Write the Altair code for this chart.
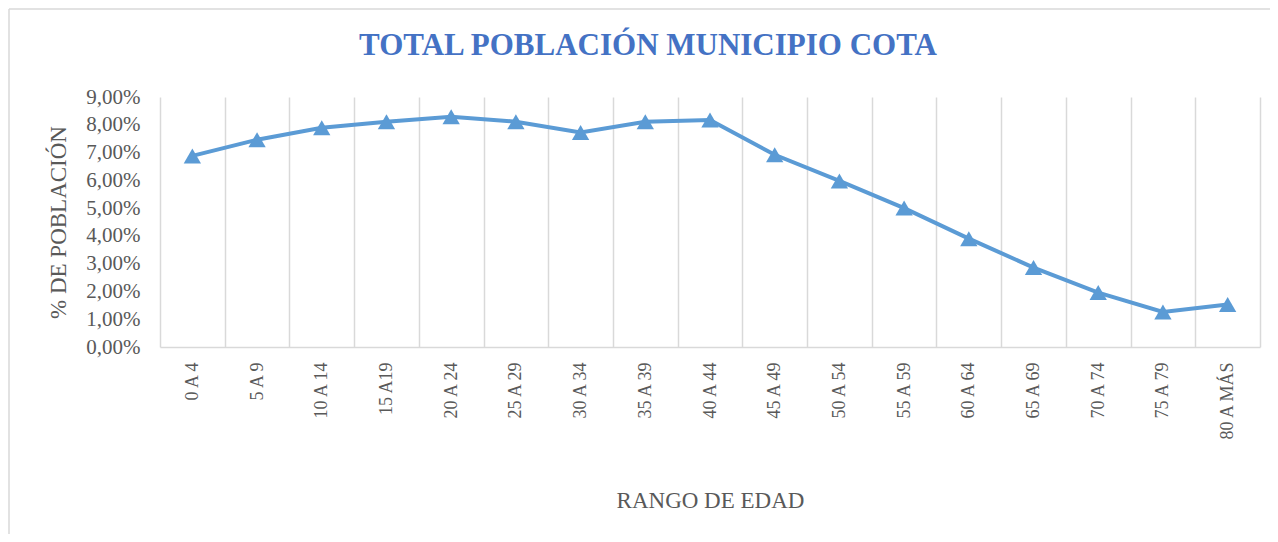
import altair as alt
import pandas as pd

categories = ["0 A 4", "5 A 9", "10 A 14", "15 A19", "20 A 24", "25 A 29", "30 A 34",
              "35 A 39", "40 A 44", "45 A 49", "50 A 54", "55 A 59", "60 A 64",
              "65 A 69", "70 A 74", "75 A  79", "80 A MÁS"]
values = [0.0688, 0.0746, 0.0789, 0.0811, 0.0829, 0.0811, 0.0772,
          0.0811, 0.0817, 0.0692, 0.0598, 0.0500, 0.0390,
          0.0286, 0.0196, 0.0126, 0.0153]
y_ticks = [0, 0.01, 0.02, 0.03, 0.04, 0.05, 0.06, 0.07, 0.08, 0.09]

df = pd.DataFrame({"rango": categories, "pct": values})

SERIF = "Liberation Serif"
GRAY = "#595959"
GRID = "#d9d9d9"
BLUE = "#5B9BD5"

W, H = 1100, 250

x = alt.X(
    "rango:N", sort=categories, title="RANGO DE EDAD",
    scale=alt.Scale(type="band", paddingInner=0, paddingOuter=0),
    axis=alt.Axis(
        tickBand="extent", grid=True, gridColor=GRID, gridWidth=1.5,
        domainColor=GRID, domainWidth=1.5, ticks=False,
        labelAngle=-90, labelFont=SERIF, labelFontSize=18, labelColor=GRAY,
        labelPadding=15, titleFont=SERIF, titleFontSize=23, titleColor=GRAY,
        titleFontWeight="normal", titleY=153, titleBaseline="middle",
    ),
)
y = alt.Y(
    "pct:Q", title="% DE POBLACIÓN",
    scale=alt.Scale(domain=[0, 0.09], nice=False),
    axis=alt.Axis(
        values=y_ticks, labelExpr="replace(format(datum.value, '.2%'), '.', ',')",
        grid=False, domain=False, ticks=False, labelFont=SERIF, labelFontSize=21,
        labelColor=GRAY, labelPadding=20, titleFont=SERIF, titleFontSize=23,
        titleColor=GRAY, titleFontWeight="normal", titleX=-102, titleBaseline="middle",
    ),
)

base = alt.Chart(df)
line = base.mark_line(color=BLUE, strokeWidth=4).encode(x=x, y=y)
pts = base.mark_point(shape="triangle-up", filled=True, size=300, color=BLUE, opacity=1).encode(x=x, y=y)

border_top = alt.Chart(pd.DataFrame({"a": [0]})).mark_rule(color=GRID, strokeWidth=1.5).encode(
    x=alt.value(-151), x2=alt.value(W + 12), y=alt.value(-88))
border_left = alt.Chart(pd.DataFrame({"a": [0]})).mark_rule(color=GRID, strokeWidth=1.5).encode(
    x=alt.value(-151), y=alt.value(-88), y2=alt.value(H + 200))

chart = alt.layer(border_top, border_left, line, pts).properties(
    width=W, height=H,
    title=alt.TitleParams(
        "TOTAL POBLACIÓN MUNICIPIO COTA", font=SERIF, fontSize=31, fontWeight="bold",
        color="#4472C4", anchor="middle", frame="group", dx=-62, offset=-54,
    ),
    padding={"left": 152, "top": 89, "right": 10, "bottom": 187},
    autosize=alt.AutoSizeParams(type="none"),
).configure_view(stroke=None)

chart.save("out.html", embed_options={"renderer": "svg", "actions": False})
